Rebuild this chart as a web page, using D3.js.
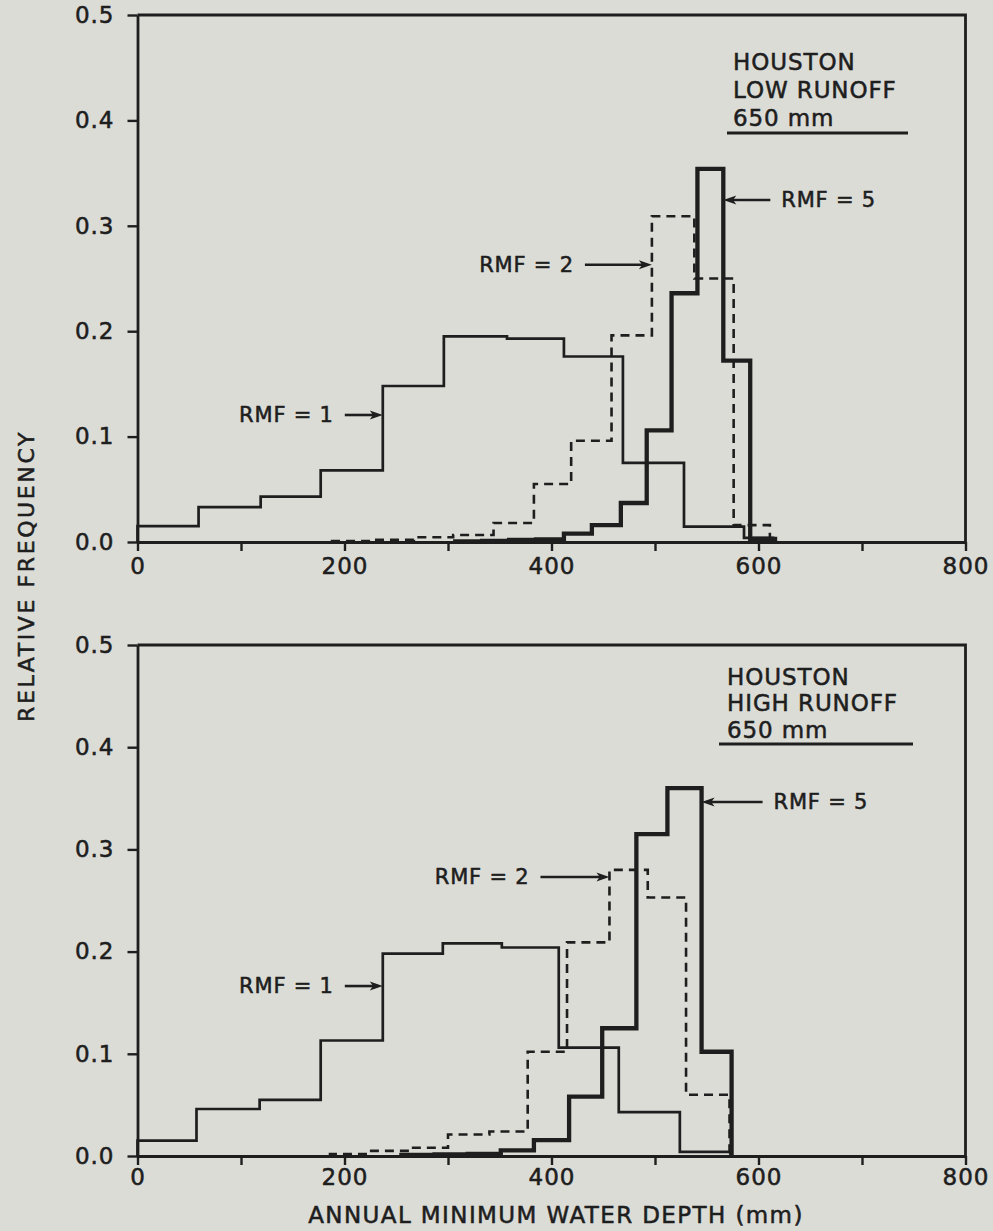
<!DOCTYPE html>
<html>
<head>
<meta charset="utf-8">
<script src="https://cdn.jsdelivr.net/npm/d3@7"></script>
<style>
  html, body { margin: 0; padding: 0; background: #dcdcd7; }
  svg { display: block; }
  text { font-family: "DejaVu Sans", sans-serif; fill: #1e1e1e; stroke: #1e1e1e; stroke-width: 0.55px; }
</style>
</head>
<body>
<svg id="chart" width="993" height="1231"></svg>
<script>
// ---- Relative frequency of annual minimum soil water depth, Houston ----

// Low runoff case: bin edges (mm) and relative frequencies
const lowRmf1Edges = [0, 59, 119, 177, 237, 296, 357, 412, 469, 528, 586, 614];
const lowRmf1Freq  = [0.015, 0.033, 0.043, 0.068, 0.148, 0.195, 0.193, 0.176, 0.075, 0.0145, 0.004];
const lowRmf2Edges = [188, 227, 267, 305, 344, 383, 419, 458, 497, 538, 576, 611];
const lowRmf2Freq  = [0.001, 0.002, 0.0045, 0.0066, 0.018, 0.055, 0.096, 0.196, 0.309, 0.250, 0.016];
const lowRmf5Edges = [307, 333, 359, 385, 412, 439, 467, 492, 516, 541, 566, 592, 616];
const lowRmf5Freq  = [0.0005, 0.001, 0.002, 0.0025, 0.008, 0.016, 0.037, 0.106, 0.236, 0.354, 0.172, 0.003];

// High runoff case
const highRmf1Edges = [0, 57, 118, 177, 237, 295, 352, 407, 465, 524, 573];
const highRmf1Freq  = [0.015, 0.046, 0.055, 0.113, 0.198, 0.208, 0.204, 0.106, 0.043, 0.004];
const highRmf2Edges = [186, 224, 264, 300, 340, 377, 415, 456, 493, 530, 572];
const highRmf2Freq  = [0.002, 0.005, 0.008, 0.021, 0.024, 0.102, 0.209, 0.280, 0.253, 0.060];
const highRmf5Edges = [255, 287, 319, 351, 383, 417, 449, 482, 512, 545, 574];
const highRmf5Freq  = [0.001, 0.0015, 0.002, 0.0055, 0.0156, 0.058, 0.125, 0.315, 0.360, 0.102];

// Axis ticks
const xTicks = [0, 100, 200, 300, 400, 500, 600, 700, 800];
const xTickLabels = [0, 200, 400, 600, 800];
const yTicks = [0, 0.1, 0.2, 0.3, 0.4, 0.5];

const panelTitlesLow  = ["HOUSTON", "LOW RUNOFF", "650 mm"];
const panelTitlesHigh = ["HOUSTON", "HIGH RUNOFF", "650 mm"];
const xTitle = "ANNUAL MINIMUM WATER DEPTH (mm)";
const yTitle = "RELATIVE FREQUENCY";

// ---- drawing ----
const W = 993, H = 1231;
const ink = "#1e1e1e";
const svg = d3.select("#chart");
svg.append("rect").attr("width", W).attr("height", H).attr("fill", "#dcdcd7");

const x = d3.scaleLinear().domain([0, 800]).range([137.5, 965.5]);

const styles = {
  rmf1: { width: 2.7, dash: null },
  rmf2: { width: 2.6, dash: "9,6" },
  rmf5: { width: 4.3, dash: null }
};

const panels = [
  {
    yRange: [542, 15],
    titles: panelTitlesLow,
    legend: { x: 733, y: 61.5, gap: 28, lineY: 133, lineX: [727, 908] },
    labelPad: 7,
    series: [
      { key: "rmf1", edges: lowRmf1Edges, freq: lowRmf1Freq },
      { key: "rmf2", edges: lowRmf2Edges, freq: lowRmf2Freq },
      { key: "rmf5", edges: lowRmf5Edges, freq: lowRmf5Freq }
    ],
    notes: [
      { text: "RMF = 5", at: 566, v: 0.3245, dir: "left",  len: 47 },
      { text: "RMF = 2", at: 497, v: 0.263,  dir: "right", len: 67 },
      { text: "RMF = 1", at: 237, v: 0.1205, dir: "right", len: 38 }
    ]
  },
  {
    yRange: [1156, 645],
    titles: panelTitlesHigh,
    legend: { x: 727, y: 676.5, gap: 26.5, lineY: 744, lineX: [719, 913] },
    labelPad: 4,
    series: [
      { key: "rmf1", edges: highRmf1Edges, freq: highRmf1Freq },
      { key: "rmf2", edges: highRmf2Edges, freq: highRmf2Freq },
      { key: "rmf5", edges: highRmf5Edges, freq: highRmf5Freq }
    ],
    notes: [
      { text: "RMF = 5", at: 545, v: 0.3464, dir: "left",  len: 61 },
      { text: "RMF = 2", at: 456, v: 0.273,  dir: "right", len: 69 },
      { text: "RMF = 1", at: 237, v: 0.1663, dir: "right", len: 38 }
    ]
  }
];

// Step outline of a histogram: up the first edge, across each bin, down the last edge
function stepPoints(edges, freq) {
  const pts = [[edges[0], 0]];
  freq.forEach((f, i) => {
    pts.push([edges[i], f]);
    pts.push([edges[i + 1], f]);
  });
  pts.push([edges[edges.length - 1], 0]);
  return pts;
}

panels.forEach(p => {
  const y = d3.scaleLinear().domain([0, 0.5]).range(p.yRange);
  const g = svg.append("g");

  // frame: top and right borders
  g.append("path")
    .attr("d", d3.line()([[x(0), y(0.5)], [x(800), y(0.5)], [x(800), y(0)]]))
    .attr("fill", "none").attr("stroke", ink).attr("stroke-width", 2.8);

  // y axis
  const ya = g.append("g").attr("transform", `translate(${x(0)},0)`)
    .call(d3.axisLeft(y).tickValues(yTicks).tickSize(10).tickSizeOuter(0).tickPadding(13)
      .tickFormat(d => d3.format(".1f")(d)));
  // x axis
  const xa = g.append("g").attr("transform", `translate(0,${y(0)})`)
    .call(d3.axisBottom(x).tickValues(xTicks).tickSize(9).tickSizeOuter(0).tickPadding(p.labelPad)
      .tickFormat(d => xTickLabels.includes(d) ? d : ""));
  [ya, xa].forEach(a => {
    a.select(".domain").attr("stroke", ink).attr("stroke-width", 2.8);
    a.selectAll(".tick line").attr("stroke", ink).attr("stroke-width", 2.4);
    a.selectAll(".tick text").attr("fill", ink).attr("stroke", ink).attr("stroke-width", 0.55)
      .style("font-size", "23px")
      .style("font-family", "'DejaVu Sans', sans-serif").attr("letter-spacing", 1);
  });

  // histograms
  const line = d3.line().x(d => x(d[0])).y(d => y(d[1])).curve(d3.curveLinear);
  p.series.forEach(s => {
    const st = styles[s.key];
    g.append("path")
      .attr("d", line(stepPoints(s.edges, s.freq)))
      .attr("fill", "none").attr("stroke", ink)
      .attr("stroke-width", st.width)
      .attr("stroke-dasharray", st.dash)
      .attr("stroke-linejoin", "miter");
  });

  // site / case block with underline
  p.titles.forEach((t, i) => {
    g.append("text").attr("x", p.legend.x).attr("y", p.legend.y + i * p.legend.gap)
      .attr("dominant-baseline", "central").attr("letter-spacing", 0.9)
      .style("font-size", "23px").text(t);
  });
  g.append("line")
    .attr("x1", p.legend.lineX[0]).attr("x2", p.legend.lineX[1])
    .attr("y1", p.legend.lineY).attr("y2", p.legend.lineY)
    .attr("stroke", ink).attr("stroke-width", 2.8);

  // arrows pointing at each distribution
  p.notes.forEach(n => {
    const tx = x(n.at), ty = y(n.v);
    const sgn = n.dir === "left" ? 1 : -1;     // direction from tip toward tail
    const tail = tx + sgn * n.len;
    const headL = 13, headW = 4.5;
    g.append("line").attr("x1", tail).attr("x2", tx + sgn * headL * 0.6)
      .attr("y1", ty).attr("y2", ty).attr("stroke", ink).attr("stroke-width", 2.6);
    g.append("path")
      .attr("d", `M${tx},${ty}L${tx + sgn * headL},${ty - headW}L${tx + sgn * headL * 0.75},${ty}L${tx + sgn * headL},${ty + headW}Z`)
      .attr("fill", ink);
    g.append("text")
      .attr("x", tail + sgn * 11).attr("y", ty)
      .attr("text-anchor", n.dir === "left" ? "start" : "end")
      .attr("dominant-baseline", "central").attr("letter-spacing", 0.8)
      .style("font-size", "21px").text(n.text);
  });
});

// axis titles
svg.append("text")
  .attr("transform", "translate(26,576) rotate(-90)")
  .attr("text-anchor", "middle").attr("dominant-baseline", "central")
  .attr("letter-spacing", 2.6).style("font-size", "22px").text(yTitle);
svg.append("text")
  .attr("x", 556).attr("y", 1215)
  .attr("text-anchor", "middle").attr("dominant-baseline", "central")
  .attr("letter-spacing", 1.4).style("font-size", "23px").text(xTitle);
</script>
</body>
</html>
